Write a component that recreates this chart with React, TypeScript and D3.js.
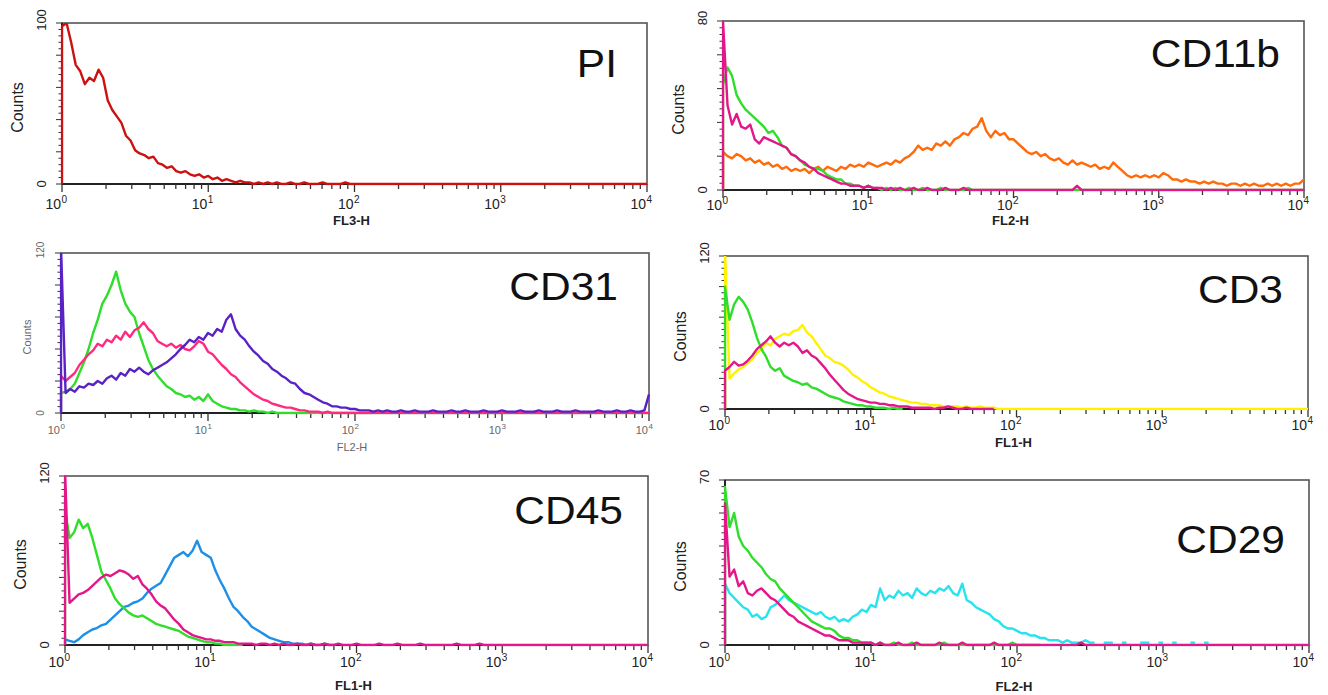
import React from 'react';
import * as d3 from 'd3';

// 32 channels per decade, channel i sits at 10^(i/32), 129 channels cover 10^0..10^4
const CHANNELS_PER_DECADE = 32;
const decades = [0, 1, 2, 3, 4];

const piRed = [
  98, 100, 88, 74, 70, 62, 66, 64, 71, 66,
  52, 46, 42, 38, 30, 27, 21, 19, 18, 16,
  17, 13, 12, 10, 11, 8, 7, 8, 6, 5,
  6, 4, 5, 3, 4, 2, 3, 2, 1, 2,
  1, 1, 0, 1, 0, 1, 0, 1, 0, 0,
  1, 0, 0, 1, 0, 0, 0, 1, 0, 0,
  0, 0, 1, 0, 0, 0, 0, 0, 0, 0,
  0, 0, 0, 0, 0, 0, 0, 0, 0, 0,
  0, 0, 0, 0, 0, 0, 0, 0, 0, 0,
  0, 0, 0, 0, 0, 0, 0, 0, 0, 0,
  0, 0, 0, 0, 0, 0, 0, 0, 0, 0,
  0, 0, 0, 0, 0, 0, 0, 0, 0, 0,
  0, 0, 0, 0, 0, 0, 0, 0, 0,
];

const cd11bOrange = [
  18, 16, 15, 17, 16, 14, 15, 13, 14, 12,
  13, 11, 12, 10, 11, 9, 10, 9, 10, 8,
  10, 11, 9, 11, 10, 9, 11, 10, 12, 11,
  12, 11, 13, 12, 11, 12, 13, 12, 14, 13,
  15, 16, 18, 21, 19, 20, 19, 22, 21, 23,
  21, 24, 25, 27, 26, 29, 30, 34, 28, 25,
  28, 26, 27, 24, 24, 22, 20, 18, 17, 18,
  16, 17, 15, 14, 15, 13, 12, 14, 12, 13,
  12, 11, 12, 10, 11, 10, 13, 11, 9, 7,
  6, 7, 6, 7, 6, 7, 6, 8, 7, 5,
  5, 4, 5, 4, 4, 3, 4, 3, 4, 3,
  3, 2, 3, 3, 2, 3, 2, 3, 2, 2,
  3, 2, 3, 2, 3, 2, 3, 3, 5,
];
const cd11bGreen = [
  50, 58, 54, 45, 41, 38, 36, 34, 32, 30,
  27, 28, 25, 21, 20, 17, 16, 14, 12, 11,
  10, 10, 9, 7, 6, 5, 5, 3, 3, 2,
  2, 1, 2, 1, 1, 0, 1, 0, 1, 0,
  0, 1, 0, 0, 1, 0, 0, 0, 1, 0,
  0, 0, 0, 0, 1, 0, 0, 0, 0, 0,
  0, 0, 0, 0, 0, 0, 0, 0, 0, 0,
  0, 0, 0, 0, 0, 0, 0, 0, 0, 0,
  0, 0, 0, 0, 0, 0, 0, 0, 0, 0,
  0, 0, 0, 0, 0, 0, 0, 0, 0, 0,
  0, 0, 0, 0, 0, 0, 0, 0, 0, 0,
  0, 0, 0, 0, 0, 0, 0, 0, 0, 0,
  0, 0, 0, 0, 0, 0, 0, 0, 0,
];
const cd11bMagenta = [
  80, 40, 31, 36, 30, 29, 31, 24, 22, 25,
  24, 23, 22, 21, 20, 17, 16, 14, 13, 11,
  10, 8, 7, 6, 5, 4, 3, 3, 2, 2,
  2, 1, 2, 1, 1, 1, 0, 1, 0, 1,
  0, 0, 1, 0, 0, 1, 0, 0, 0, 1,
  0, 0, 0, 1, 0, 0, 0, 0, 0, 0,
  0, 0, 0, 0, 0, 0, 0, 0, 0, 0,
  0, 0, 0, 0, 0, 0, 0, 0, 2, 0,
  0, 0, 0, 0, 0, 0, 0, 0, 0, 0,
  0, 0, 0, 0, 0, 0, 0, 0, 0, 0,
  0, 0, 0, 0, 0, 0, 0, 0, 0, 0,
  0, 0, 0, 0, 0, 0, 0, 0, 0, 0,
  0, 0, 0, 0, 0, 0, 0, 0, 0,
];

const cd31Green = [
  15, 16, 18, 22, 30, 38, 48, 60, 70, 82,
  88, 96, 106, 92, 82, 76, 72, 60, 50, 40,
  33, 28, 24, 20, 18, 15, 14, 12, 13, 10,
  12, 9, 14, 9, 7, 5, 4, 3, 3, 2,
  2, 1, 2, 1, 1, 0, 1, 0, 0, 0,
  0, 0, 0, 0, 0, 0, 0, 0, 0, 0,
  0, 0, 0, 0, 0, 0, 0, 0, 0, 0,
  0, 0, 0, 0, 0, 0, 0, 0, 0, 0,
  0, 0, 0, 0, 0, 0, 0, 0, 0, 0,
  0, 0, 0, 0, 0, 0, 0, 0, 0, 0,
  0, 0, 0, 0, 0, 0, 0, 0, 0, 0,
  0, 0, 0, 0, 0, 0, 0, 0, 0, 0,
  0, 0, 0, 0, 0, 0, 0, 0, 0,
];
const cd31Pink = [
  28, 24, 27, 30, 36, 40, 44, 47, 52, 50,
  55, 53, 58, 55, 61, 57, 62, 64, 68, 63,
  60, 54, 52, 50, 52, 49, 51, 48, 47, 50,
  54, 52, 46, 44, 40, 36, 33, 29, 27, 23,
  20, 17, 14, 12, 10, 9, 7, 6, 5, 4,
  4, 3, 2, 2, 1, 1, 1, 0, 1, 0,
  0, 0, 0, 0, 0, 0, 0, 0, 0, 0,
  0, 0, 0, 0, 0, 0, 0, 0, 0, 0,
  0, 0, 0, 0, 0, 0, 0, 0, 0, 0,
  0, 0, 0, 0, 0, 0, 0, 0, 0, 0,
  0, 0, 0, 0, 0, 0, 0, 0, 0, 0,
  0, 0, 0, 0, 0, 0, 0, 0, 0, 0,
  0, 0, 0, 0, 0, 0, 0, 0, 0,
];
const cd31Purple = [
  125, 15, 18, 16, 20, 19, 22, 21, 24, 22,
  26, 28, 25, 30, 28, 33, 31, 34, 31, 29,
  32, 34, 36, 38, 41, 44, 48, 51, 55, 53,
  57, 55, 60, 58, 63, 61, 70, 74, 63, 58,
  55, 50, 46, 43, 39, 37, 33, 31, 28, 26,
  23, 22, 18, 15, 14, 12, 10, 8, 7, 5,
  5, 4, 4, 3, 3, 2, 2, 2, 1, 2,
  1, 2, 1, 1, 2, 1, 1, 2, 1, 1,
  1, 2, 1, 1, 1, 2, 1, 1, 2, 1,
  1, 1, 2, 1, 1, 1, 2, 1, 1, 1,
  2, 1, 1, 1, 2, 1, 1, 1, 2, 1,
  1, 1, 2, 1, 1, 1, 1, 2, 1, 1,
  1, 2, 1, 1, 2, 1, 1, 2, 14,
];

const cd3Yellow = [
  125, 24, 28, 31, 33, 36, 39, 44, 47, 52,
  50, 55, 57, 59, 58, 61, 62, 66, 60, 57,
  52, 47, 42, 40, 37, 36, 34, 31, 27, 25,
  22, 20, 17, 15, 13, 12, 10, 9, 8, 7,
  6, 5, 5, 4, 4, 3, 3, 3, 2, 2,
  2, 2, 1, 2, 1, 1, 2, 1, 1, 1,
  0, 0, 0, 0, 0, 0, 0, 0, 0, 0,
  0, 0, 0, 0, 0, 0, 0, 0, 0, 0,
  0, 0, 0, 0, 0, 0, 0, 0, 0, 0,
  0, 0, 0, 0, 0, 0, 0, 0, 0, 0,
  0, 0, 0, 0, 0, 0, 0, 0, 0, 0,
  0, 0, 0, 0, 0, 0, 0, 0, 0, 0,
  0, 0, 0, 0, 0, 0, 0, 0, 0,
];
const cd3Green = [
  96, 70, 82, 88, 84, 78, 68, 56, 47, 41,
  33, 30, 32, 26, 24, 22, 21, 19, 20, 17,
  16, 14, 12, 10, 9, 8, 6, 5, 4, 3,
  3, 2, 2, 1, 1, 1, 0, 1, 0, 0,
];
const cd3Pink = [
  30, 33, 37, 34, 35, 38, 42, 47, 50, 53,
  57, 52, 49, 52, 50, 52, 49, 44, 46, 42,
  40, 36, 32, 27, 23, 19, 15, 12, 10, 8,
  7, 6, 5, 5, 4, 4, 3, 3, 2, 2,
  2, 1, 1, 1, 1, 1, 0, 1, 1, 2,
  1, 0, 0, 1, 0, 0, 0, 0, 0, 0,
];

const cd45Blue = [
  4, 3, 2, 4, 7, 9, 11, 12, 14, 15,
  18, 21, 24, 27, 28, 30, 31, 33, 37, 40,
  42, 44, 50, 56, 62, 64, 66, 63, 67, 74,
  66, 64, 62, 53, 46, 40, 33, 27, 24, 20,
  17, 13, 11, 9, 7, 5, 4, 3, 2, 2,
  1, 1, 1, 0, 1, 0, 0, 1, 0, 0,
];
const cd45Green = [
  96, 76, 80, 89, 83, 86, 76, 64, 52, 46,
  40, 33, 29, 26, 23, 21, 20, 21, 19, 17,
  15, 14, 13, 12, 11, 10, 8, 6, 5, 4,
  3, 2, 2, 1, 1, 0, 0, 0, 0, 0,
];
const cd45Magenta = [
  125, 30, 33, 36, 37, 39, 42, 45, 48, 50,
  49, 51, 53, 52, 50, 47, 49, 43, 40, 36,
  31, 28, 26, 22, 18, 15, 11, 9, 7, 6,
  5, 4, 4, 3, 3, 2, 2, 2, 1, 1,
  1, 1, 0, 1, 1, 0, 1, 0, 1, 0,
  0, 1, 0, 0, 1, 0, 0, 1, 0, 0,
  1, 0, 0, 0, 1, 0, 0, 0, 0, 1,
  0, 0, 0, 1, 0, 0, 0, 0, 1, 0,
  0, 0, 0, 0, 0, 0, 1, 0, 0, 0,
  0, 1, 0, 0, 0, 0, 0, 0, 0, 0,
  0, 0, 0, 0, 0, 0, 0, 0, 0, 0,
  0, 0, 0, 0, 0, 0, 0, 0, 0, 0,
  0, 0, 0, 0, 0, 0, 0, 0, 0,
];

const cd29Cyan = [
  26, 22, 20, 18, 16, 15, 12, 13, 11, 12,
  16, 17, 19, 21, 19, 18, 17, 16, 15, 14,
  13, 14, 12, 11, 12, 10, 11, 10, 12, 13,
  15, 14, 17, 16, 24, 19, 21, 20, 23, 21,
  22, 20, 24, 22, 21, 23, 22, 24, 23, 25,
  22, 21, 26, 19, 18, 16, 15, 14, 13, 11,
  10, 8, 7, 7, 6, 5, 5, 4, 4, 3,
  3, 2, 2, 2, 1, 2, 1, 1, 1, 2,
  1, 1, null, 1, 1, 1, null, 1, 1, null,
  null, 1, 1, 1, null, 1, 1, null, 1, 1,
  null, null, 1, 1, null, 1, 1, null,
];
const cd29Green = [
  67, 50, 56, 46, 42, 40, 37, 35, 33, 30,
  28, 27, 24, 22, 20, 18, 16, 14, 12, 10,
  9, 8, 7, 7, 6, 4, 3, 3, 2, 2,
  1, 1, 1, 0, 1, 0, 0, 1, 0, 0,
  0, 1, 0, 0, 0, 0, 0, 0, 1, 0,
  0, 0, 0, 0, 0, 0, 0, 0, 0, 0,
  0, 0, 0, 1, 0, 0, 0, 0, 0, 0,
];
const cd29Magenta = [
  60, 29, 32, 25, 27, 22, 21, 23, 24, 22,
  20, 19, 17, 15, 13, 12, 10, 9, 8, 7,
  6, 5, 4, 4, 3, 2, 2, 2, 1, 1,
  1, 1, 1, 0, 1, 0, 0, 0, 1, 0,
  0, 0, 1, 0, 0, 0, 0, 1, 0, 0,
  0, 0, 1, 0, 0, 0, 0, 0, 0, 1,
  0, 0, 0, 0, 0, 0, 0, 0, 0, 0,
  0, 0, 0, 0, 0, 0, 0, 0, 1, 0,
  0, 0, 0, 0, 0, 0, 0, 0, 0, 0,
  0, 0, 0, 0, 0, 0, 0, 0, 0, 0,
  0, 0, 0, 0, 0, 0, 0, 0, 0, 0,
  0, 0, 0, 0, 0, 0, 0, 0, 0, 0,
  0, 0, 0, 0, 0, 0, 0, 0, 0,
];

const RED = '#cc1111';
const GREEN = '#2fde2a';
const MAGENTA = '#e3168a';
const ORANGE = '#ff6a0a';
const PINK = '#ff2a80';
const PURPLE = '#5822c4';
const YELLOW = '#fff200';
const BLUE = '#1d8fe6';
const CYAN = '#27e3ee';

type Series = { values: (number | null)[]; color: string };
type Panel = {
  title: string;
  yMax: number;
  xLabel: string;
  box: [number, number, number, number];
  titlePos: [number, number];
  labelOff: number;
  xLabelY: number;
  small?: boolean;
  series: Series[];
};

const panels: Panel[] = [
  { title: 'PI', yMax: 100, xLabel: 'FL3-H', box: [62, 647, 23, 184], titlePos: [617, 77], labelOff: 25, xLabelY: 225,
    series: [{ values: piRed, color: RED }] },
  { title: 'CD11b', yMax: 80, xLabel: 'FL2-H', box: [723, 1304, 21, 190], titlePos: [1280, 67], labelOff: 20, xLabelY: 225,
    series: [{ values: cd11bOrange, color: ORANGE }, { values: cd11bGreen, color: GREEN }, { values: cd11bMagenta, color: MAGENTA }] },
  { title: 'CD31', yMax: 120, xLabel: 'FL2-H', box: [61, 649, 253, 413], titlePos: [618, 300], labelOff: 21, xLabelY: 451, small: true,
    series: [{ values: cd31Green, color: GREEN }, { values: cd31Pink, color: PINK }, { values: cd31Purple, color: PURPLE }] },
  { title: 'CD3', yMax: 120, xLabel: 'FL1-H', box: [725, 1308, 256, 409], titlePos: [1283, 303], labelOff: 21, xLabelY: 447,
    series: [{ values: cd3Yellow, color: YELLOW }, { values: cd3Green, color: GREEN }, { values: cd3Pink, color: MAGENTA }] },
  { title: 'CD45', yMax: 120, xLabel: 'FL1-H', box: [65, 648, 476, 645], titlePos: [623, 524], labelOff: 22, xLabelY: 690,
    series: [{ values: cd45Blue, color: BLUE }, { values: cd45Green, color: GREEN }, { values: cd45Magenta, color: MAGENTA }] },
  { title: 'CD29', yMax: 70, xLabel: 'FL2-H', box: [725, 1309, 480, 645], titlePos: [1285, 553], labelOff: 22, xLabelY: 691,
    series: [{ values: cd29Cyan, color: CYAN }, { values: cd29Green, color: GREEN }, { values: cd29Magenta, color: MAGENTA }] },
];

const Histogram = ({ p, id }: { p: Panel; id: number }) => {
  const [x0, x1, y0, y1] = p.box;
  const x = d3.scaleLog().domain([1, 1e4]).range([x0, x1]);
  const y = d3.scaleLinear().domain([0, p.yMax]).range([y1, y0]);

  const line = d3.line<[number, number | null]>()
    .defined(d => d[1] !== null)
    .x(d => x(d[0]))
    .y(d => y(d[1] as number));

  // outline starts on the baseline at the first channel
  const pathFor = (vals: (number | null)[]) =>
    line([[1, 0], ...vals.map((v, i) => [Math.pow(10, i / CHANNELS_PER_DECADE), v] as [number, number | null])]) || '';

  const ink = p.small ? '#666' : '#222';
  const tickFs = p.small ? 11 : 14;
  const supFs = p.small ? 8 : 10;
  const yFs = p.small ? 10 : 13;
  const countsFs = p.small ? 11 : 16;
  const xlFs = p.small ? 11 : 13;

  const yTicks = d3.range(0, 26).map(k => (k * p.yMax) / 25);
  const xTicks = x.ticks();
  const clipId = `clip-${id}`;

  return (
    <g>
      <defs>
        <clipPath id={clipId}>
          <rect x={x0 - 1.5} y={y0} width={x1 - x0 + 3} height={y1 - y0 + 1.5} />
        </clipPath>
      </defs>
      <rect x={x0} y={y0} width={x1 - x0} height={y1 - y0} fill="#fff" stroke="#555" strokeWidth={1.6} />
      <line x1={x0} x2={x0} y1={y0} y2={y1} stroke="#222" strokeWidth={2} />
      <line x1={x0} x2={x1} y1={y1} y2={y1} stroke="#222" strokeWidth={2} />

      {yTicks.map((t, k) => (
        <line key={k} x1={x0} x2={x0 - (k % 5 === 0 ? 6 : 3.5)} y1={y(t)} y2={y(t)} stroke="#333" strokeWidth={1} />
      ))}
      {xTicks.map((t, k) => {
        const major = Number.isInteger(Math.log10(t));
        return <line key={k} x1={x(t)} x2={x(t)} y1={y1} y2={y1 + (major ? 8 : 5)} stroke="#333" strokeWidth={1.3} />;
      })}

      {decades.map(d => (
        <g key={d} fill={ink}>
          <text x={x(Math.pow(10, d)) - 1} y={y1 + p.labelOff} fontSize={tickFs} textAnchor="end">10</text>
          <text x={x(Math.pow(10, d)) - 0.5} y={y1 + p.labelOff - tickFs * 0.45} fontSize={supFs}>{d}</text>
        </g>
      ))}

      <text transform={`translate(${x0 - 21},${y(p.yMax) - 3}) rotate(-90)`} textAnchor="middle" dominantBaseline="central" fontSize={yFs} fill={ink}>{p.yMax}</text>
      <text transform={`translate(${x0 - 21},${y(0)}) rotate(-90)`} textAnchor="middle" dominantBaseline="central" fontSize={yFs} fill={ink}>0</text>
      <text transform={`translate(${x0 - (p.small ? 34 : 45)},${(y0 + y1) / 2 + 4}) rotate(-90)`} textAnchor="middle" dominantBaseline="central" fontSize={countsFs} fill={ink}>Counts</text>
      <text x={x(100) - 3} y={p.xLabelY} textAnchor="middle" fontSize={xlFs} fontWeight={p.small ? 'normal' : 'bold'} fill={ink}>{p.xLabel}</text>

      <g clipPath={`url(#${clipId})`}>
        {p.series.map((s, k) => (
          <path key={k} d={pathFor(s.values)} fill="none" stroke={s.color} strokeWidth={2.4} strokeLinejoin="round" />
        ))}
      </g>

      <text transform={`translate(${p.titlePos[0]},${p.titlePos[1]}) scale(1.09,1)`} textAnchor="end" fontSize={39} fill="#111">{p.title}</text>
    </g>
  );
};

export default function App() {
  return (
    <svg width={1328} height={695} style={{ position: 'absolute', left: 0, top: 0, background: '#fff' }}
      fontFamily="'Liberation Sans', Arial, Helvetica, sans-serif">
      {panels.map((p, i) => <Histogram key={i} p={p} id={i} />)}
    </svg>
  );
}
